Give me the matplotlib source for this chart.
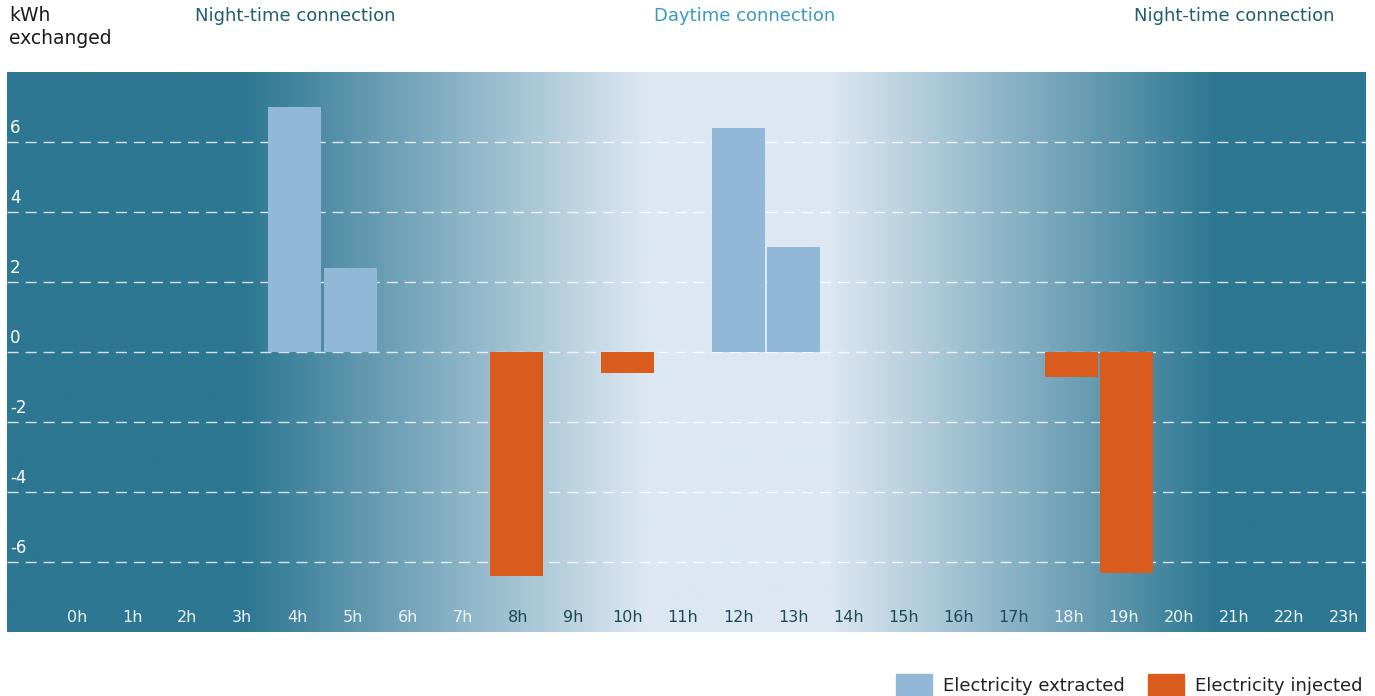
import numpy as np
import matplotlib
matplotlib.use("Agg")
import matplotlib.pyplot as plt
from matplotlib.patches import Patch
from matplotlib.colors import LinearSegmentedColormap

# data
hours = list(range(24))
hour_labels = [f"{h}h" for h in hours]
extracted = [0, 0, 0, 0, 7.0, 2.4, 0, 0, 0, 0, 0, 0, 6.4, 3.0, 0, 0, 0, 0, 0, 0, 0, 0, 0, 0]
injected = [0, 0, 0, 0, 0, 0, 0, 0, -6.4, 0, -0.6, 0, 0, 0, 0, 0, 0, 0, -0.72, -6.3, 0, 0, 0, 0]
y_ticks = [-6, -4, -2, 0, 2, 4, 6]
dark_label_hours = list(range(8, 18))

dark = "#2d7792"
light = "#dce7f2"
c_extr = "#92b8d8"
c_inj = "#d95b1e"

plt.rcParams['font.family'] = ['DejaVu Sans']

fig = plt.figure(figsize=(13.75, 6.96), dpi=100)
ax = fig.add_axes([7 / 1375, 64 / 696, 1359 / 1375, 560 / 696])
xmin, xmax = -1.182, 23.31
ax.set_xlim(xmin, xmax)
ax.set_ylim(-8, 8)

# day / night background gradient
xs = np.linspace(xmin, xmax, 1200)
t = np.interp(xs, [xmin, 3.07, 10.35, 13.65, 20.63, xmax], [0, 0, 1, 1, 0, 0])
cmap = LinearSegmentedColormap.from_list("daynight", [dark, light])
ax.imshow(t[np.newaxis, :], cmap=cmap, vmin=0, vmax=1, aspect="auto",
          extent=[xmin, xmax, -8, 8], zorder=0, interpolation="bilinear")

for y in y_ticks:
    ax.axhline(y, color="white", lw=1, ls=(0, (8, 5)), alpha=0.8, zorder=1)
    ax.text(xmin + 0.05, y + 0.27, str(y), color="white", fontsize=12,
            ha="left", va="baseline", zorder=3)

ax.bar(hours, extracted, width=0.955, color=c_extr, zorder=2)
ax.bar(hours, injected, width=0.955, color=c_inj, zorder=2)

# hour labels sit on a slightly tighter spacing than the bars
for h, lab in zip(hours, hour_labels):
    col = "#1d4a58" if h in dark_label_hours else "#eef3f7"
    ax.text(0.08 + h * 0.993, -7.6, lab, color=col, fontsize=11.5, ha="center",
            va="center", zorder=3)

ax.set_xticks([])
ax.set_yticks([])
for s in ax.spines.values():
    s.set_visible(False)

# headers
fig.text(9 / 1375, 1 - 6 / 696, "kWh\nexchanged", color="#1a1a1a", fontsize=13.5,
         ha="left", va="top", linespacing=1.3)
hdr_y = 1 - 16 / 696
fig.text(295 / 1375, hdr_y, "Night-time connection", color="#1f5f70",
         fontsize=13, ha="center", va="center")
fig.text(745 / 1375, hdr_y, "Daytime connection", color="#3a9ac4",
         fontsize=13, ha="center", va="center")
fig.text(1234 / 1375, hdr_y, "Night-time connection", color="#1f5f70",
         fontsize=13, ha="center", va="center")

handles = [Patch(color=c_extr, label="Electricity extracted"),
           Patch(color=c_inj, label="Electricity injected")]
fig.legend(handles=handles, loc="lower right", bbox_to_anchor=(1370 / 1375, -0.01),
           ncol=2, frameon=False, fontsize=13, handlelength=2.0, handleheight=1.45,
           handletextpad=0.6, columnspacing=1.3, labelcolor="#222222",
           borderaxespad=0)

fig.savefig("out.png", dpi=100)
